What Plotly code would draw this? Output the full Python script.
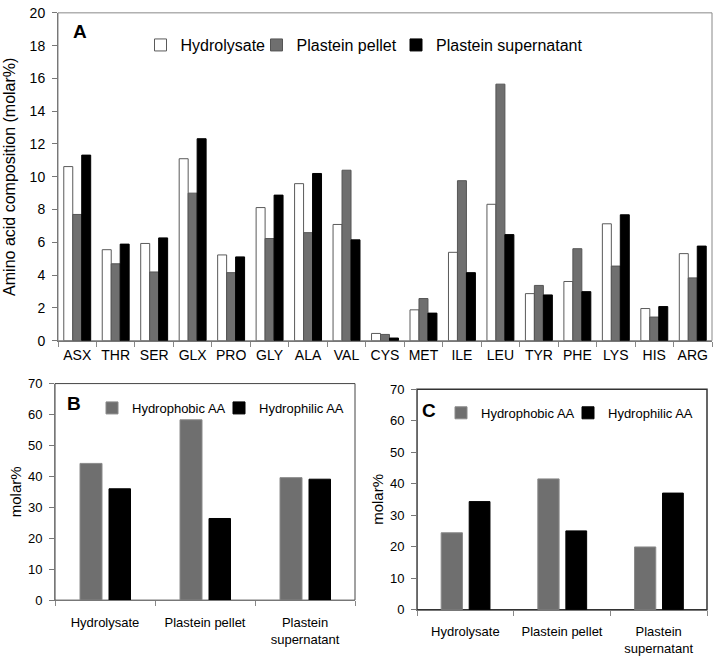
import plotly.graph_objects as go

# ---------------- data ----------------
amino_acids = ["ASX", "THR", "SER", "GLX", "PRO", "GLY", "ALA", "VAL", "CYS",
               "MET", "ILE", "LEU", "TYR", "PHE", "LYS", "HIS", "ARG"]
hydrolysate = [10.62, 5.55, 5.93, 11.10, 5.23, 8.12, 9.58, 7.09, 0.44,
               1.88, 5.39, 8.32, 2.87, 3.61, 7.13, 1.96, 5.31]
pellet = [7.70, 4.69, 4.19, 9.00, 4.15, 6.23, 6.59, 10.40, 0.38,
          2.57, 9.76, 15.65, 3.37, 5.61, 4.55, 1.44, 3.83]
supernatant = [11.32, 5.89, 6.27, 12.32, 5.11, 8.88, 10.20, 6.15, 0.16,
               1.68, 4.15, 6.47, 2.79, 2.99, 7.68, 2.08, 5.77]

fractions = ["Hydrolysate", "Plastein pellet", "Plastein<br>supernatant"]
b_hydrophobic = [44.2, 58.3, 39.6]
b_hydrophilic = [36.0, 26.4, 39.1]
c_hydrophobic = [24.4, 41.5, 19.9]
c_hydrophilic = [34.3, 25.0, 37.0]

# ---------------- style ----------------
FONT = "Liberation Sans, Arial, sans-serif"
W, H = 714, 656
GRAY = "#6f6f6f"

def px_x(p):
    return p / W

def px_y(p):
    return 1 - p / H

fig = go.Figure()

# Panel A
fig.add_trace(go.Bar(x=amino_acids, y=hydrolysate, name="Hydrolysate",
                     marker=dict(color="white", line=dict(color="#5a5a5a", width=1)),
                     xaxis="x", yaxis="y", legend="legend", showlegend=True))
fig.add_trace(go.Bar(x=amino_acids, y=pellet, name="Plastein pellet",
                     marker=dict(color=GRAY, line=dict(color="#555555", width=1)),
                     xaxis="x", yaxis="y", legend="legend2", showlegend=True))
fig.add_trace(go.Bar(x=amino_acids, y=supernatant, name="Plastein supernatant",
                     marker=dict(color="black", line=dict(color="black", width=1)),
                     xaxis="x", yaxis="y", legend="legend3", showlegend=True))

# Panels B and C
W1, W2, O1, O2 = 0.22, 0.215, -0.25, 0.04
for xa, ya, lg1, lg2, hp, hl in [("x2", "y2", "legend4", "legend5", b_hydrophobic, b_hydrophilic),
                                 ("x3", "y3", "legend6", "legend7", c_hydrophobic, c_hydrophilic)]:
    fig.add_trace(go.Bar(x=fractions, y=hp, name="Hydrophobic AA",
                         width=W1, offset=O1, showlegend=True,
                         marker=dict(color=GRAY, line=dict(color="#8a8a8a", width=1)),
                         xaxis=xa, yaxis=ya, legend=lg1))
    fig.add_trace(go.Bar(x=fractions, y=hl, name="Hydrophilic AA",
                         width=W2, offset=O2, showlegend=True,
                         marker=dict(color="black", line=dict(color="black", width=1)),
                         xaxis=xa, yaxis=ya, legend=lg2))

xcommon = dict(type="category", tickson="boundaries", ticks="outside", ticklen=5,
               tickcolor="#888", showline=True, linecolor="#777", linewidth=1,
               showgrid=False, zeroline=False, fixedrange=True, tickangle=0)
ycommon = dict(ticks="outside", ticklen=5, tickcolor="#777", showline=True,
               linecolor="#777", linewidth=1, showgrid=False, zeroline=False,
               fixedrange=True, ticklabelstandoff=4)

def legend_cfg(xp, yp, size):
    return dict(orientation="h", x=px_x(xp), y=px_y(yp), xanchor="left",
                yanchor="middle", font=dict(size=size), bgcolor="rgba(0,0,0,0)",
                itemclick=False, itemdoubleclick=False, visible=True)

fig.update_layout(
    width=W, height=H,
    showlegend=True,
    margin=dict(l=0, r=0, t=0, b=0),
    paper_bgcolor="white", plot_bgcolor="white",
    font=dict(family=FONT, color="black"),
    barmode="group", bargap=0.3, bargroupgap=0,
    xaxis=dict(xcommon, domain=[px_x(58), px_x(712)], anchor="y",
               tickfont=dict(size=14), ticklabelstandoff=2),
    yaxis=dict(ycommon, domain=[px_y(342), px_y(6)], anchor="x", range=[0, 20],
               dtick=2, tickfont=dict(size=14),
               title=dict(text="Amino acid composition (molar%)", font=dict(size=16),
                          standoff=10)),
    xaxis2=dict(xcommon, domain=[px_x(55), px_x(355)], anchor="y2",
                tickfont=dict(size=13), ticklabelstandoff=10),
    yaxis2=dict(ycommon, domain=[px_y(608), px_y(386)], anchor="x2", range=[0, 70],
                dtick=10, tickfont=dict(size=13),
                title=dict(text="molar%", font=dict(size=15), standoff=2)),
    xaxis3=dict(xcommon, domain=[px_x(417), px_x(707)], anchor="y3",
                tickfont=dict(size=13), ticklabelstandoff=10),
    yaxis3=dict(ycommon, domain=[px_y(617.7), px_y(391.7)], anchor="x3", range=[0, 70],
                dtick=10, tickfont=dict(size=13),
                title=dict(text="molar%", font=dict(size=15), standoff=2)),
    legend=legend_cfg(140.5, 39, 16),
    legend2=legend_cfg(256.5, 39, 16),
    legend3=legend_cfg(396, 39, 16),
    legend4=legend_cfg(92, 411, 13),
    legend5=legend_cfg(219, 411, 13),
    legend6=legend_cfg(441, 416, 13),
    legend7=legend_cfg(568, 416, 13),
    shapes=[
        dict(type="rect", xref="x domain", yref="y domain", x0=0, x1=1, y0=0, y1=1,
             line=dict(color="#888", width=1), layer="below"),
        dict(type="rect", xref="x2 domain", yref="y2 domain", x0=0, x1=1, y0=0, y1=1,
             line=dict(color="#444", width=1), layer="below"),
        dict(type="rect", xref="x3 domain", yref="y3 domain", x0=0, x1=1, y0=0, y1=1,
             line=dict(color="#333", width=1.5), layer="below"),
    ],
    annotations=[
        dict(text="<b>A</b>", xref="paper", yref="paper", x=px_x(71), y=px_y(25.5),
             xanchor="left", yanchor="middle", showarrow=False, font=dict(size=19)),
        dict(text="<b>B</b>", xref="paper", yref="paper", x=px_x(65), y=px_y(406),
             xanchor="left", yanchor="middle", showarrow=False, font=dict(size=19)),
        dict(text="<b>C</b>", xref="paper", yref="paper", x=px_x(420), y=px_y(414),
             xanchor="left", yanchor="middle", showarrow=False, font=dict(size=19)),
    ],
)

fig.write_html("out.html",
               config={"displayModeBar": False},
               post_script="document.body.style.margin='0';"
                           "document.body.style.overflow='hidden';")
